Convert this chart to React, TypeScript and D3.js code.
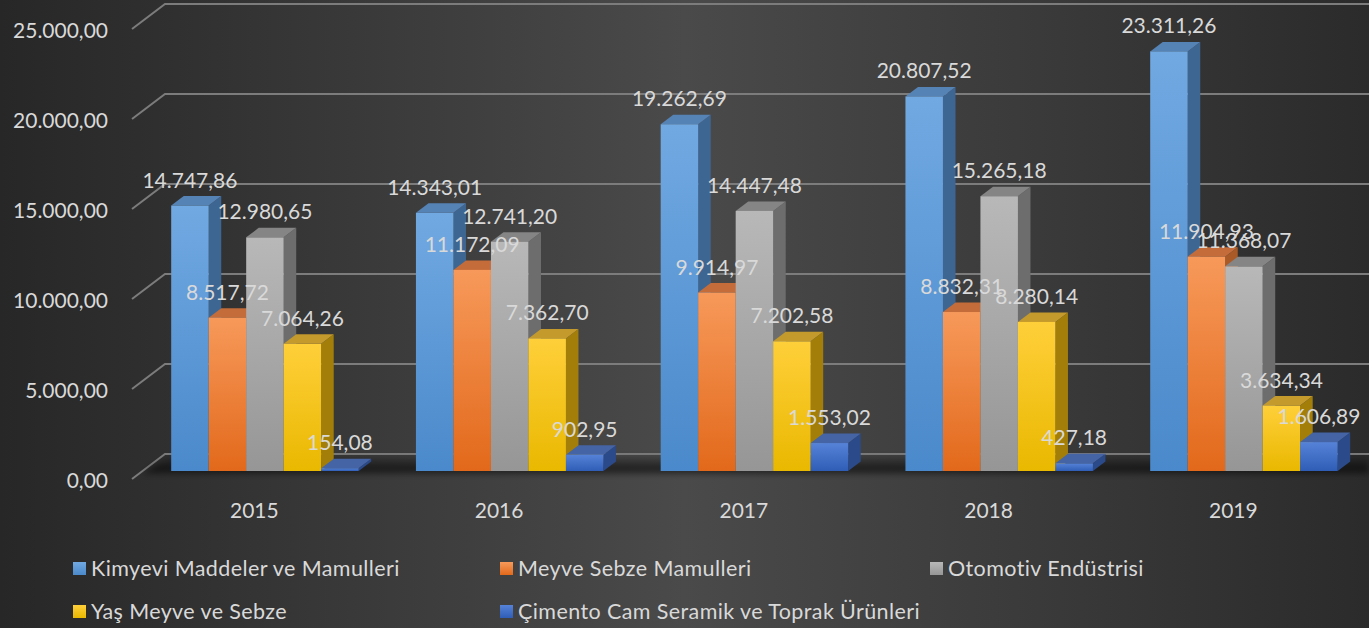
import React from "react";
import * as d3 from "d3";

const years = ["2015", "2016", "2017", "2018", "2019"];
const seriesNames = [
  "Kimyevi Maddeler ve Mamulleri",
  "Meyve Sebze Mamulleri",
  "Otomotiv Endüstrisi",
  "Yaş Meyve ve Sebze",
  "Çimento Cam Seramik ve Toprak Ürünleri",
];
const kimyevi = [14747.86, 14343.01, 19262.69, 20807.52, 23311.26];
const meyveSebzeMamul = [8517.72, 11172.09, 9914.97, 8832.31, 11904.93];
const otomotiv = [12980.65, 12741.2, 14447.48, 15265.18, 11368.07];
const yasMeyve = [7064.26, 7362.7, 7202.58, 8280.14, 3634.34];
const cimento = [154.08, 902.95, 1553.02, 427.18, 1606.89];
const yTicks = [0, 5000, 10000, 15000, 20000, 25000];

const seriesValues = [kimyevi, meyveSebzeMamul, otomotiv, yasMeyve, cimento];

const palette = [
  { f1: "#71a9e2", f2: "#4a89cb", side: "#3e6692", top: "#5683b6" },
  { f1: "#f7995a", f2: "#e2691b", side: "#a95a26", top: "#c46c3a" },
  { f1: "#b8b8b8", f2: "#969696", side: "#6d6d6d", top: "#858585" },
  { f1: "#ffcf3a", f2: "#e9b800", side: "#a37e08", top: "#c49a2c" },
  { f1: "#5683d8", f2: "#2f5db6", side: "#2b4a8a", top: "#4564a6" },
];

const W = 1369;
const H = 628;
const FONT = "Lato, 'Open Sans', sans-serif";
const TXT = "#d9d9d9";

const fmt = d3.formatLocale({
  decimal: ",",
  thousands: ".",
  grouping: [3],
  currency: ["", ""],
}).format(",.2f");

// 3D projection geometry
const DX = 33; // full depth x offset
const DY = 25; // full depth y offset
const D0 = 0.32; // bar front depth fraction
const D1 = 0.7; // bar back depth fraction

export default function App() {
  const x0 = 132;
  const step = 244.75;
  const xBand = d3
    .scaleBand<string>()
    .domain(years)
    .range([x0, x0 + step * years.length])
    .paddingInner(0.234)
    .paddingOuter(0.117);
  const xSeries = d3
    .scaleBand<number>()
    .domain(d3.range(seriesNames.length))
    .range([0, xBand.bandwidth()]);
  const y = d3.scaleLinear().domain([0, 25000]).range([479, 29]);

  const proj = (xf: number, v: number, d: number): [number, number] => [
    xf + DX * d,
    y(v) - DY * d,
  ];

  const bars: JSX.Element[] = [];
  const labels: JSX.Element[] = [];
  years.forEach((yr, ci) => {
    seriesNames.forEach((_, si) => {
      const v = seriesValues[si][ci];
      const xl = (xBand(yr) as number) + (xSeries(si) as number);
      const xr = xl + xSeries.bandwidth();
      const c = palette[si];
      const fbl = proj(xl, 0, D0);
      const ftl = proj(xl, v, D0);
      const ftr = proj(xr, v, D0);
      const fbr = proj(xr, 0, D0);
      const btl = proj(xl, v, D1);
      const btr = proj(xr, v, D1);
      const bbr = proj(xr, 0, D1);
      const pts = (a: [number, number][]) => a.map((p) => p.join(",")).join(" ");
      bars.push(
        <g key={`b-${ci}-${si}`}>
          <polygon points={pts([fbr, ftr, btr, bbr])} fill={c.side} />
          <polygon points={pts([ftl, ftr, btr, btl])} fill={c.top} />
          <rect
            x={ftl[0]}
            y={ftl[1]}
            width={ftr[0] - ftl[0]}
            height={Math.max(0.5, fbl[1] - ftl[1])}
            fill={`url(#front${si})`}
          />
        </g>
      );
      labels.push(
        <text
          key={`l-${ci}-${si}`}
          x={(ftl[0] + ftr[0]) / 2}
          y={ftl[1] - 18}
          textAnchor="middle"
          fontSize={21}
          fontFamily={FONT}
          fill={TXT}
        >
          {fmt(v)}
        </text>
      );
    });
  });

  const backX = x0 + DX;
  const legendRows = [
    [0, 1, 2],
    [3, 4],
  ];
  const legendX = [73, 500, 930];
  const legendY = [569, 612];

  return (
    <svg
      width={W}
      height={H}
      style={{ position: "absolute", left: 0, top: 0, display: "block" }}
      xmlns="http://www.w3.org/2000/svg"
    >
      <defs>
        <linearGradient id="bg" x1="0" y1="0" x2="1" y2="0">
          <stop offset="0" stopColor="#272727" />
          <stop offset="0.5" stopColor="#4a4a4a" />
          <stop offset="1" stopColor="#2b2b2b" />
        </linearGradient>
        <linearGradient id="floorShade" x1="0" y1="0" x2="0" y2="1">
          <stop offset="0" stopColor="#000" stopOpacity="0.05" />
          <stop offset="0.75" stopColor="#000" stopOpacity="0.6" />
          <stop offset="1" stopColor="#000" stopOpacity="0.3" />
        </linearGradient>
        <filter id="blur" x="-5%" y="-50%" width="110%" height="200%">
          <feGaussianBlur stdDeviation="3" />
        </filter>
        {palette.map((c, i) => (
          <linearGradient key={i} id={`front${i}`} x1="0" y1="0" x2="0" y2="1">
            <stop offset="0" stopColor={c.f1} />
            <stop offset="1" stopColor={c.f2} />
          </linearGradient>
        ))}
      </defs>
      <rect x={0} y={0} width={W} height={H} fill="url(#bg)" />

      {/* grid lines */}
      {yTicks.map((t) => (
        <g key={`g-${t}`}>
          <polyline
            points={`${x0},${y(t)} ${backX},${y(t) - DY} ${W},${y(t) - DY}`}
            fill="none"
            stroke="#7c7c7c"
            strokeWidth={2}
          />
          <text
            x={108}
            y={y(t) + 8.5}
            textAnchor="end"
            fontSize={21}
            fontFamily={FONT}
            fill={TXT}
          >
            {fmt(t)}
          </text>
        </g>
      ))}

      {/* floor shadow */}
      <polygon
        points={`${x0 + 10},${y(0) - 5} ${backX + 4},${y(0) - DY + 2} ${W},${y(0) - DY + 2} ${W},${y(0) - 5}`}
        fill="url(#floorShade)"
        filter="url(#blur)"
      />

      {bars}
      {labels}

      {years.map((yr) => (
        <text
          key={`c-${yr}`}
          x={(xBand(yr) as number) + xBand.bandwidth() / 2}
          y={518}
          textAnchor="middle"
          fontSize={21}
          fontFamily={FONT}
          fill={TXT}
        >
          {yr}
        </text>
      ))}

      {legendRows.map((row, ri) =>
        row.map((si, k) => (
          <g key={`lg-${si}`}>
            <rect
              x={legendX[k]}
              y={legendY[ri] - 7}
              width={13}
              height={13}
              fill={`url(#front${si})`}
            />
            <text
              x={legendX[k] + 18}
              y={legendY[ri] + 7}
              fontSize={21.5}
              letterSpacing={0.4}
              fontFamily={FONT}
              fill={TXT}
            >
              {seriesNames[si]}
            </text>
          </g>
        ))
      )}
    </svg>
  );
}
